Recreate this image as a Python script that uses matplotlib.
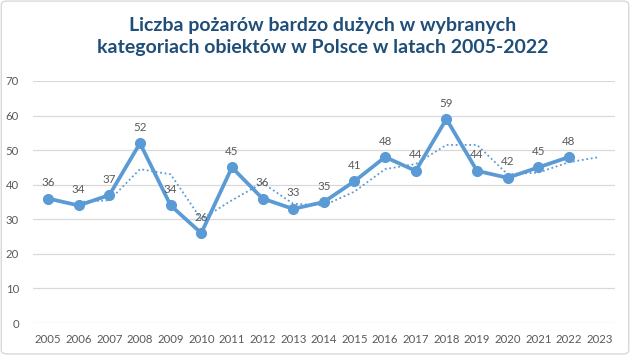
import matplotlib
matplotlib.use("Agg")
import matplotlib.pyplot as plt
from matplotlib.patches import FancyBboxPatch

years = [str(y) for y in range(2005, 2024)]
fires = [36, 34, 37, 52, 34, 26, 45, 36, 33, 35, 41, 48, 44, 59, 44, 42, 45, 48]
# dotted trend line (starts at 2006, runs to 2023)
trend = [35, 35.5, 44.5, 43, 30, 35.5, 40.5, 34.5, 34, 38, 44.5, 46, 51.5, 51.5, 43, 43.5, 46.5, 48]

title = "Liczba pożarów bardzo dużych w wybranych\nkategoriach obiektów w Polsce w latach 2005-2022"

blue = "#5B9BD5"
grey = "#595959"

plt.rcParams["font.family"] = ["Lato", "DejaVu Sans"]

fig = plt.figure(figsize=(6.3, 3.55), dpi=100)
ax = fig.add_axes([0.052, 0.090, 0.924, 0.682])

x = list(range(len(fires)))
xt = list(range(1, 1 + len(trend)))

ax.plot(xt, trend, linestyle=(0, (1, 1.5)), color=blue, linewidth=1.3, zorder=2)
ax.plot(x, fires, color=blue, linewidth=2.7, marker="o", markersize=7, zorder=3)

for xi, v in zip(x, fires):
    ax.annotate(str(v), (xi, v), xytext=(0, 7.5), textcoords="offset points",
                ha="center", va="bottom", fontsize=8.3, color=grey)

ax.set_xlim(-0.5, len(years) - 0.5)
ax.set_ylim(0, 70)
ax.set_yticks(range(0, 71, 10))
ax.set_xticks(range(len(years)))
ax.set_xticklabels(years)
ax.tick_params(axis="both", length=0, labelsize=8.2, colors=grey)
ax.tick_params(axis="y", pad=10)
ax.tick_params(axis="x", pad=8)
ax.grid(axis="y", color="#D9D9D9", linewidth=0.9)
ax.set_axisbelow(True)
for s in ax.spines.values():
    s.set_visible(False)

fig.text(0.512, 0.897, title, ha="center", va="center", fontsize=14,
         fontweight="bold", color="#1F4E79", linespacing=1.3)

border = FancyBboxPatch((0.002, 0.003), 0.996, 0.994, boxstyle="round,pad=0,rounding_size=0.01",
                        transform=fig.transFigure, fill=False, edgecolor="#D9D9D9", linewidth=1)
fig.patches.append(border)

fig.savefig("out.png", dpi=100)
plt.close(fig)
